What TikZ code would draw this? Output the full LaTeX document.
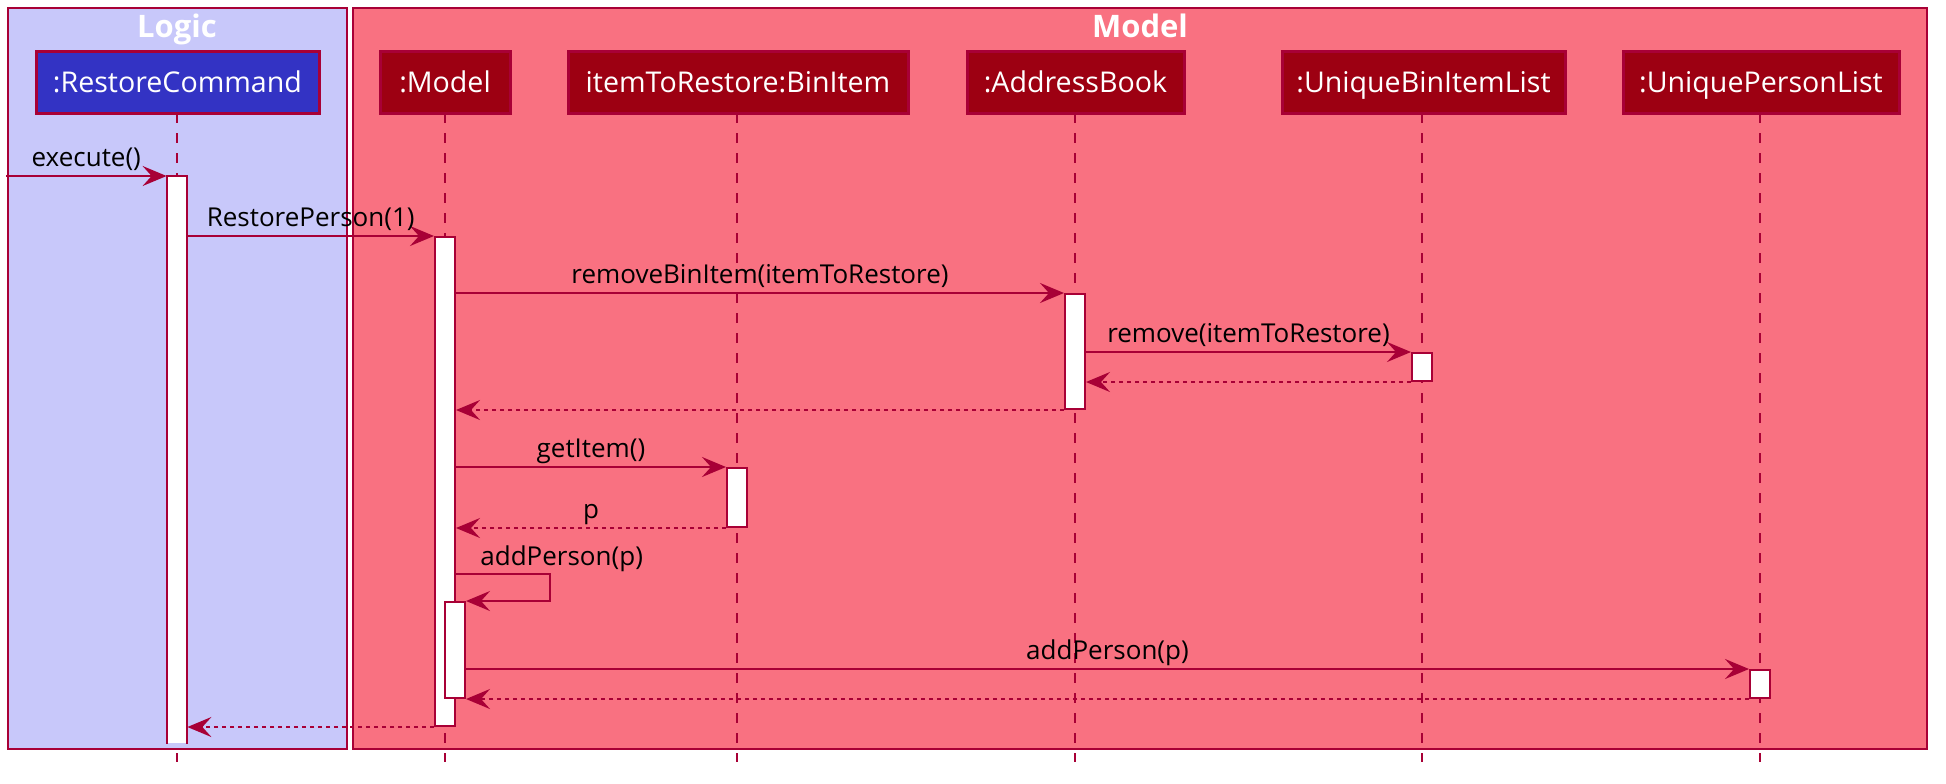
\documentclass[tikz,border=0pt]{standalone}
\usepackage{fontspec}
\setmainfont{Open Sans}
\usetikzlibrary{arrows.meta}
\definecolor{bord}{HTML}{A80036}
\definecolor{logicbg}{HTML}{C8C8FA}
\definecolor{modelbg}{HTML}{F97181}
\definecolor{modelpart}{HTML}{9D0012}
\definecolor{logicpart}{HTML}{3333C4}
\begin{document}
\begin{tikzpicture}[x=0.5pt,y=-0.5pt,
  grp/.style={draw=bord, line width=1pt},
  grptitle/.style={text=white, font=\fontsize{15.5}{17}\bfseries\selectfont, anchor=base, inner sep=0pt},
  part/.style={draw=bord, line width=1.5pt, text=white, font=\fontsize{14.3}{16}\selectfont,
    inner sep=0pt, minimum height=31pt, text height=10.5pt, text depth=0pt},
  act/.style={draw=bord, fill=white, line width=1pt, minimum width=10pt, inner sep=0pt, anchor=north},
  actfill/.style={fill=white, minimum width=10pt, inner sep=0pt, anchor=north},
  life/.style={draw=bord, line width=1pt, dash pattern=on 5pt off 5pt},
  msg/.style={draw=bord, line width=1pt, -{Stealth[length=12pt, width=10pt, inset=4.5pt]}},
  ret/.style={msg, dash pattern=on 2pt off 2pt},
  labtxt/.style={font=\fontsize{13}{15}\selectfont, text=black, inner sep=0pt},
  lab/.style={labtxt, anchor=base, yshift=4.8pt}
]
\useasboundingbox (0,0) rectangle (1946,783);
% groups
\draw[grp, fill=logicbg] (8,8) rectangle (347,749);
\draw[grp, fill=modelbg] (353,8) rectangle (1927,749);
\node[grptitle] (tLogic) at (177,37) {Logic};
\node[grptitle] (tModel) at (1140,37) {Model};
% participants
\node[part, fill=logicpart, minimum width=141.5pt] (pRC) at (177.5,82) {:RestoreCommand};
\node[part, fill=modelpart, minimum width=65pt] (pM) at (445,82) {:Model};
\node[part, fill=modelpart, minimum width=170pt] (pBI) at (738,82) {itemToRestore:BinItem};
\node[part, fill=modelpart, minimum width=108.5pt] (pAB) at (1075.5,82) {:AddressBook};
\node[part, fill=modelpart, minimum width=141.5pt] (pUB) at (1423.5,82) {:UniqueBinItemList};
\node[part, fill=modelpart, minimum width=138pt] (pUP) at (1761,82) {:UniquePersonList};
% lifelines
\foreach \p/\x in {pRC/177,pM/445,pBI/737,pAB/1075,pUB/1422,pUP/1760}
  \draw[life] (\x,113) -- (\x,762);
% activations
\node[actfill, minimum height=283.5pt] (aRC) at (177,176) {};
\draw[bord, line width=1pt] (aRC.south west) -- (aRC.north west) -- (aRC.north east) -- (aRC.south east);
\node[act, minimum height=244.5pt] (aM) at (445,236) {};
\node[act, minimum height=57.5pt] (aAB) at (1075,293) {};
\node[act, minimum height=14pt] (aUB) at (1422,352) {};
\node[act, minimum height=29.5pt] (aBI) at (737,467) {};
\node[act, minimum height=48pt] (aN) at (455,601) {};
\node[act, minimum height=14pt] (aUP) at (1760,669) {};
% messages
\coordinate (ex0) at (6,176);
\draw[msg] (ex0) -- node[lab, midway] {execute()} (aRC.north west);
\draw[msg] (aRC.east |- aM.north) -- node[lab, midway] {RestorePerson(1)} (aM.north west);
\draw[msg] (aM.east |- aAB.north) -- node[lab, midway] {removeBinItem(itemToRestore)} (aAB.north west);
\draw[msg] (aAB.east |- aUB.north) -- node[lab, midway] {remove(itemToRestore)} (aUB.north west);
\draw[ret] (aUB.south west) -- (aAB.east |- aUB.south);
\draw[ret] (aAB.south west) -- (aM.east |- aAB.south);
\draw[msg] (aM.east |- aBI.north) -- node[lab, midway] {getItem()} (aBI.north west);
\draw[ret] (aBI.south west) -- node[lab, midway] {p} (aM.east |- aBI.south);
\coordinate (selfA) at (550,574);
\draw[msg] (aM.east |- selfA) -- (selfA) -- (selfA |- aN.north) -- (aN.north east);
\node[labtxt, anchor=base west] (lself) at (480,565) {addPerson(p)};
\draw[msg] (aN.east |- aUP.north) -- node[lab, midway] {addPerson(p)} (aUP.north west);
\draw[ret] (aUP.south west) -- (aN.south east);
\draw[ret] (aM.south west) -- (aRC.east |- aM.south);
\end{tikzpicture}
\end{document}
